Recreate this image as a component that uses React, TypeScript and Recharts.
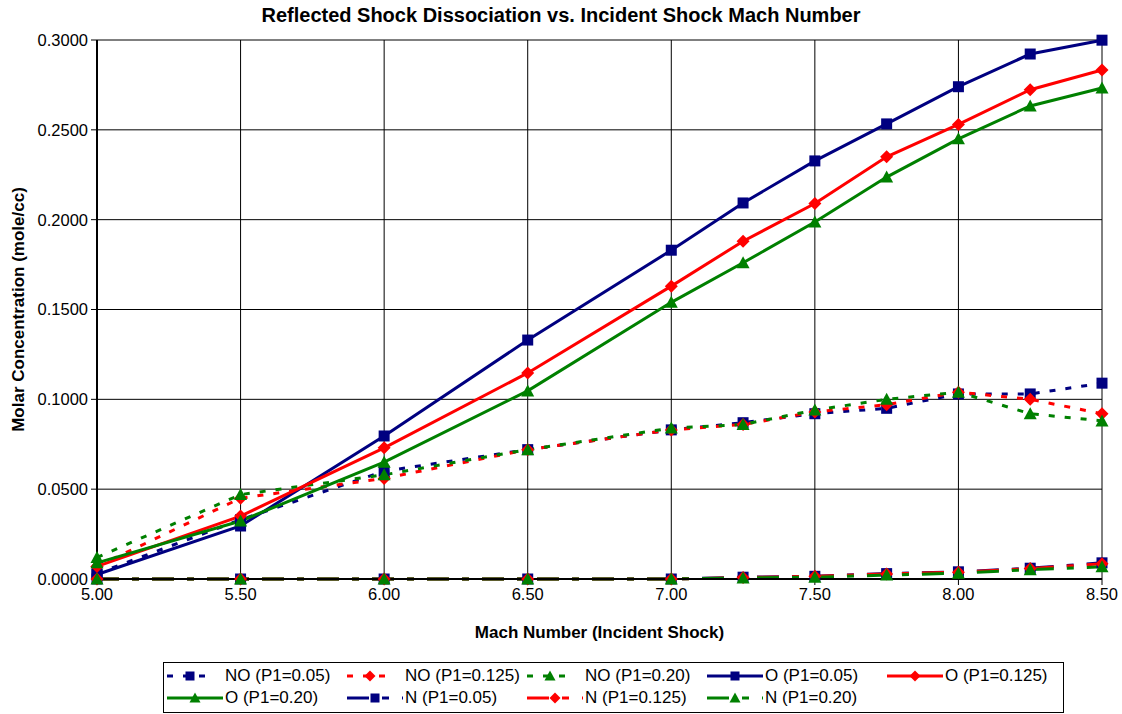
import React from 'react';
import { LineChart, Line, XAxis, YAxis, CartesianGrid, Label } from 'recharts';

// Mach number (incident shock)
const mach = [5.0, 5.5, 6.0, 6.5, 7.0, 7.25, 7.5, 7.75, 8.0, 8.25, 8.5];

// NO concentration
const no005 = [0.003, 0.033, 0.06, 0.072, 0.083, 0.087, 0.092, 0.095, 0.103, 0.103, 0.109];
const no0125 = [0.007, 0.045, 0.056, 0.072, 0.083, 0.086, 0.093, 0.097, 0.104, 0.1, 0.092];
const no020 = [0.012, 0.047, 0.058, 0.072, 0.084, 0.086, 0.094, 0.1, 0.104, 0.092, 0.088];

// O concentration
const o005 = [0.0025, 0.0295, 0.0796, 0.133, 0.183, 0.2093, 0.2327, 0.2533, 0.274, 0.2922, 0.2999];
const o0125 = [0.007, 0.035, 0.073, 0.1147, 0.163, 0.188, 0.209, 0.235, 0.253, 0.2723, 0.2833];
const o020 = [0.009, 0.0323, 0.065, 0.1047, 0.154, 0.176, 0.1987, 0.2237, 0.245, 0.2633, 0.2733];

// N concentration
const n005 = [0, 0, 0, 0, 0, 0.001, 0.0015, 0.003, 0.004, 0.006, 0.009];
const n0125 = [0, 0, 0, 0, 0, 0.0008, 0.0015, 0.0028, 0.0038, 0.0058, 0.0085];
const n020 = [0, 0, 0, 0, 0, 0.0006, 0.001, 0.0022, 0.0032, 0.0052, 0.0068];

const xTicks = [5.0, 5.5, 6.0, 6.5, 7.0, 7.5, 8.0, 8.5];
const yTicks = [0, 0.05, 0.1, 0.15, 0.2, 0.25, 0.3];

const NAVY = '#000080';
const RED = '#FF0000';
const GREEN = '#008000';
const FONT = "Arial, 'Liberation Sans', sans-serif";

const DASH_NO = '6 10';
const DASH_N = '22 13 7 13';

const data = mach.map((m, i) => ({
  mach: m,
  no005: no005[i], no0125: no0125[i], no020: no020[i],
  o005: o005[i], o0125: o0125[i], o020: o020[i],
  n005: n005[i], n0125: n0125[i], n020: n020[i],
}));

type Shape = 'square' | 'diamond' | 'triangle';

const marker = (shape: Shape, color: string, cx: number, cy: number, key?: any, s = 5.5) => {
  if (shape === 'square') {
    return <rect key={key} x={cx - s} y={cy - s} width={s * 2} height={s * 2} fill={color} />;
  }
  if (shape === 'diamond') {
    const d = s + 1;
    return <polygon key={key} points={`${cx},${cy - d} ${cx + d},${cy} ${cx},${cy + d} ${cx - d},${cy}`} fill={color} />;
  }
  const t = s + 1;
  return <polygon key={key} points={`${cx},${cy - t} ${cx + t},${cy + t - 1} ${cx - t},${cy + t - 1}`} fill={color} />;
};

const makeDot = (shape: Shape, color: string) => (props: any) => {
  const { cx, cy, index } = props;
  if (cx == null || cy == null) return <g key={index} />;
  return marker(shape, color, cx, cy, index);
};

const series = [
  { key: 'no005', name: 'NO (P1=0.05)', color: NAVY, shape: 'square' as Shape, dash: DASH_NO },
  { key: 'no0125', name: 'NO (P1=0.125)', color: RED, shape: 'diamond' as Shape, dash: DASH_NO },
  { key: 'no020', name: 'NO (P1=0.20)', color: GREEN, shape: 'triangle' as Shape, dash: DASH_NO },
  { key: 'o005', name: 'O (P1=0.05)', color: NAVY, shape: 'square' as Shape, dash: undefined },
  { key: 'o0125', name: 'O (P1=0.125)', color: RED, shape: 'diamond' as Shape, dash: undefined },
  { key: 'o020', name: 'O (P1=0.20)', color: GREEN, shape: 'triangle' as Shape, dash: undefined },
  { key: 'n005', name: 'N (P1=0.05)', color: NAVY, shape: 'square' as Shape, dash: DASH_N },
  { key: 'n0125', name: 'N (P1=0.125)', color: RED, shape: 'diamond' as Shape, dash: DASH_N },
  { key: 'n020', name: 'N (P1=0.20)', color: GREEN, shape: 'triangle' as Shape, dash: DASH_N },
];

const YLabel = (props: any) => {
  const vb = props.viewBox || {};
  const cy = vb.y + vb.height / 2;
  const cx = 18;
  return (
    <text x={cx} y={cy} transform={`rotate(-90, ${cx}, ${cy})`} textAnchor="middle"
      dominantBaseline="central" fontSize={17} fontWeight="bold" fontFamily={FONT} fill="#000">
      Molar Concentration (mole/cc)
    </text>
  );
};

const LegendBox = () => (
  <div style={{
    position: 'absolute', left: 163, top: 662, width: 901, height: 51,
    border: '1px solid #000', boxSizing: 'border-box', background: '#fff',
  }}>
    {series.map((s, i) => {
      const col = i < 5 ? i : i - 5;
      const row = i < 5 ? 0 : 1;
      const left = 167 + 180 * col - 164;
      const top = (row === 0 ? 676 : 698) - 663 - 8;
      const isNO = s.dash === DASH_NO;
      const w = isNO ? 46 : 56;
      return (
        <div key={s.key} style={{ position: 'absolute', left, top, height: 16, whiteSpace: 'nowrap' }}>
          <svg width={56} height={16} style={{ position: 'absolute', left: 0, top: 0 }}>
            <line x1={0} y1={8} x2={w} y2={8} stroke={s.color} strokeWidth={3} strokeDasharray={s.dash} />
            {marker(s.shape, s.color, isNO ? 23 : 28, 8, undefined, 4.5)}
          </svg>
          <span style={{
            position: 'absolute', left: 58, top: -2, fontSize: 17, fontFamily: FONT, color: '#000', lineHeight: '20px',
          }}>{s.name}</span>
        </div>
      );
    })}
  </div>
);

export default function App() {
  return (
    <div style={{ position: 'absolute', left: 0, top: 0, width: 1122, height: 714, background: '#fff' }}>
      <div style={{
        position: 'absolute', left: 0, top: 3, width: 1122, textAlign: 'center',
        fontFamily: FONT, fontSize: 20, fontWeight: 'bold', lineHeight: '24px', color: '#000',
      }}>
        Reflected Shock Dissociation vs. Incident Shock Mach Number
      </div>
      <LineChart width={1122} height={714} data={data}
        margin={{ top: 40, right: 20, left: 10, bottom: 75 }}>
        <CartesianGrid stroke="#000" strokeWidth={1} />
        <XAxis dataKey="mach" type="number" domain={[5, 8.5]} ticks={xTicks}
          tickFormatter={(v: number) => v.toFixed(2)} height={60}
          axisLine={{ stroke: '#000', strokeWidth: 2 }} tickLine={{ stroke: '#000' }} tickSize={6} tickMargin={3}
          tick={{ fill: '#000', fontSize: 16.5, fontFamily: FONT }}>
          <Label value="Mach Number (Incident Shock)" position="insideBottom" offset={1}
            style={{ fontSize: 17, fontWeight: 'bold', fontFamily: FONT, fill: '#000' }} />
        </XAxis>
        <YAxis type="number" domain={[0, 0.3]} ticks={yTicks} width={87}
          tickFormatter={(v: number) => v.toFixed(4)}
          axisLine={{ stroke: '#000', strokeWidth: 2 }} tickLine={{ stroke: '#000' }} tickSize={6} tickMargin={3}
          tick={{ fill: '#000', fontSize: 16.5, fontFamily: FONT }}>
          <Label content={YLabel} />
        </YAxis>
        {series.map((s) => (
          <Line key={s.key} dataKey={s.key} name={s.name} type="linear" stroke={s.color} strokeWidth={3}
            strokeDasharray={s.dash} dot={makeDot(s.shape, s.color)} activeDot={false}
            isAnimationActive={false} />
        ))}
      </LineChart>
      <LegendBox />
    </div>
  );
}
